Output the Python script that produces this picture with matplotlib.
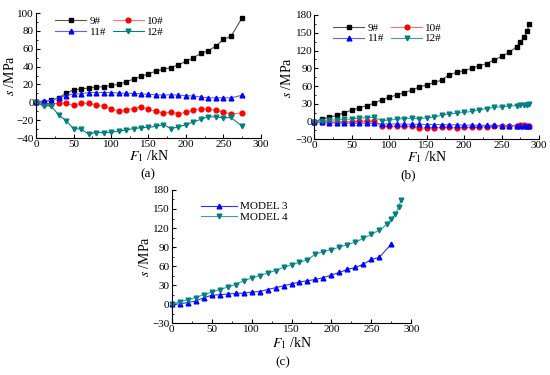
import matplotlib
matplotlib.use("Agg")
import matplotlib.pyplot as plt
from matplotlib.ticker import MultipleLocator

plt.rcParams['font.family'] = ['Liberation Serif', 'DejaVu Serif']
plt.rcParams['mathtext.fontset'] = 'stix'

# panel (a): model 3 gauges
load_a = list(range(0, 261, 10)) + [275]
s9_a = [0, 0.5, 2.6, 5, 10, 14, 15, 16, 17, 17.5, 19, 20, 23, 26, 29, 32,
        35, 37, 39, 42, 46, 50, 55, 58, 63, 70.5, 74, 95]
s10_a = [0, -2, -2, -1, -1, -3.5, -1, -1, -3, -4.5, -7, -10, -8.5, -7, -5, -8,
         -10, -12, -11, -13, -11, -9, -7, -8, -9, -11, -13, -12]
s11_a = [0, 2, 2, 5, 7.5, 9.5, 9.5, 11, 11, 11, 11, 10.5, 10, 10, 9.5, 9,
         8.5, 8, 8.5, 8, 7.5, 7, 6, 5, 5, 5, 5, 8]
s12_a = [0, -4, -4, -14, -20.5, -29.5, -30, -35.5, -34, -34, -33.5, -32.5, -31,
         -29.5, -28.5, -28, -27, -25, -29.5, -27.5, -25, -22, -19, -16, -16.5,
         -17.5, -17, -27]

# panel (b): model 4 gauges
load_b = list(range(0, 271, 10)) + [275, 280, 284, 287]
s9_b = [0, 4, 7, 10.5, 15, 19, 23, 27, 31, 37, 41, 45, 49, 53, 58, 62, 66, 70,
        79, 83, 86, 90, 94, 98, 104, 110, 117, 126, 134, 142, 153, 164]
s10_b = [0, -1, -1, -1, -0.5, 0, 0.5, 0.5, 0.5, -8, -8, -8, -8, -8, -11, -11,
         -10.5, -10, -10, -11, -10, -10, -9, -8.5, -8, -8, -7.5, -7, -6.5,
         -6.5, -7, -7.5]
s11_b = [0, -1.5, -2, -2, -2.5, -3, -3, -3, -3, -4, -4, -4, -4.5, -4.5, -4.5,
         -5, -5, -5, -5.5, -5.5, -6, -6, -6, -6.5, -6.5, -7, -7, -7.5, -7.5,
         -8, -8, -8]
s12_b = [0, 1, 2, 3, 3.5, 4.5, 5.5, 6.5, 7, 1.5, 2.5, 4, 5, 5.5, 4.5, 6.5,
         7.5, 11, 13, 14, 15.5, 17, 19.5, 22, 24, 25, 26, 27, 27.5, 28, 28.5, 29]

black = '#000000'
red = '#ff0000'
blue = '#0000ff'
teal = '#008080'

W, H = 550, 375


def style_axes(ax, ylim, ystep, xlab_off, ylab_off):
    ax.set_xlim(0, 300)
    ax.set_ylim(*ylim)
    ax.xaxis.set_major_locator(MultipleLocator(50))
    ax.xaxis.set_minor_locator(MultipleLocator(25))
    ax.yaxis.set_major_locator(MultipleLocator(ystep))
    ax.yaxis.set_minor_locator(MultipleLocator(ystep / 2))
    ax.spines['top'].set_visible(False)
    ax.spines['right'].set_visible(False)
    ax.tick_params(direction='in', which='major', length=3, labelsize=8, pad=1.5)
    ax.tick_params(direction='in', which='minor', length=1.5)
    ax.set_xlabel('$F_1$ /kN', fontsize=10, va='center')
    ax.set_ylabel('$s$ /MPa', fontsize=10, va='center')
    # place axis titles at fixed pixel offsets from the axes
    pos = ax.get_position()
    ax.xaxis.set_label_coords(0.5, -xlab_off / (pos.height * H))
    ax.yaxis.set_label_coords(-ylab_off / (pos.width * W), 0.5)


def series(ax, x, y, color, marker, label, lcolor=None):
    return ax.plot(x, y, color=lcolor or color, lw=0.8, marker=marker, ms=3.4,
                   mfc=color, mec=color, label=label, clip_on=False)[0]


def two_col_legend(ax, lines, anchor):
    # row-wise order: 9#, 10# / 11#, 12#
    order = [lines[0], lines[2], lines[1], lines[3]]
    ax.legend(order, [l.get_label() for l in order], ncol=2, loc='upper left',
              bbox_to_anchor=anchor, frameon=False, fontsize=8, handlelength=2.8,
              columnspacing=0.6, labelspacing=0.1, handletextpad=0.3, borderpad=0.2)


fig = plt.figure(figsize=(5.5, 3.75), dpi=100)

ax_a = fig.add_axes([0.0655, 0.632, 0.409, 0.333])
la = [series(ax_a, load_a, s9_a, black, 's', '9#', '#555555'),
      series(ax_a, load_a, s10_a, red, 'o', '10#', '#ff7070'),
      series(ax_a, load_a, s11_a, blue, '^', '11#', '#6060ff'),
      series(ax_a, load_a, s12_a, teal, 'v', '12#')]
style_axes(ax_a, (-40, 100), 20, 18, 26)
two_col_legend(ax_a, la, (0.05, 1.04))
fig.text(148 / W, 1 - 174 / H, '(a)', ha='center', va='center', fontsize=9.5)

ax_b = fig.add_axes([0.5715, 0.6285, 0.4085, 0.3315])
lb = [series(ax_b, load_b, s9_b, black, 's', '9#', '#555555'),
      series(ax_b, load_b, s10_b, red, 'o', '10#', '#ff7070'),
      series(ax_b, load_b, s11_b, blue, '^', '11#', '#6060ff'),
      series(ax_b, load_b, s12_b, teal, 'v', '12#', '#40a0a0')]
style_axes(ax_b, (-30, 180), 30, 18, 27)
two_col_legend(ax_b, lb, (0.05, 1.0))
fig.text(408 / W, 1 - 175 / H, '(b)', ha='center', va='center', fontsize=9.5)

ax_c = fig.add_axes([0.312, 0.138, 0.436, 0.3555])
series(ax_c, load_a, s9_a, blue, '^', 'MODEL 3', '#3030ff')
series(ax_c, load_b, s9_b, teal, 'v', 'MODEL 4', '#40a0a0')
style_axes(ax_c, (-30, 180), 30, 20, 27)
ax_c.legend(ncol=1, loc='upper left', bbox_to_anchor=(0.09, 0.97), frameon=False,
            fontsize=8, handlelength=3.2, labelspacing=0.1, handletextpad=0.3,
            borderpad=0.2)
fig.text(283 / W, 1 - 362 / H, '(c)', ha='center', va='center', fontsize=9.5)

fig.savefig('out.png', dpi=100)
